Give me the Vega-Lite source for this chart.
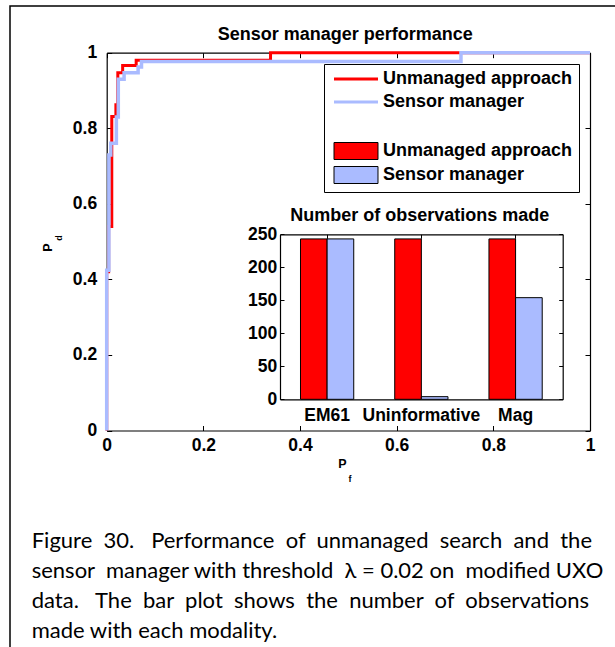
{
  "$schema": "https://vega.github.io/schema/vega-lite/v6.json",
  "autosize": {"type": "none"},
  "width": 610,
  "height": 646,
  "padding": {"left": 10, "top": 6, "right": -5, "bottom": -5},
  "background": "white",
  "title": {
    "text": [
      "Figure\u00a0 30.\u00a0\u00a0 Performance\u00a0 of\u00a0 unmanaged\u00a0 search\u00a0 and\u00a0 the",
      "sensor\u00a0 manager with threshold\u00a0 λ = 0.02 on\u00a0 modified UXO",
      "data.\u00a0\u00a0 The\u00a0 bar\u00a0 plot\u00a0 shows\u00a0 the\u00a0 number\u00a0 of\u00a0 observations",
      "made with each modality."
    ],
    "orient": "bottom",
    "anchor": "start",
    "frame": "group",
    "offset": -121,
    "dx": 21.7,
    "font": "Lato",
    "fontSize": 22,
    "fontWeight": "normal",
    "color": "black",
    "lineHeight": 30,
    "baseline": "top",
    "align": "left"
  },
  "datasets": {
    "roc": [
      {"curve": "Unmanaged approach", "step": 0, "pf": 0, "pd": 0},
      {"curve": "Unmanaged approach", "step": 1, "pf": 0, "pd": 0.42},
      {"curve": "Unmanaged approach", "step": 2, "pf": 0.004, "pd": 0.54},
      {"curve": "Unmanaged approach", "step": 3, "pf": 0.0105, "pd": 0.831},
      {"curve": "Unmanaged approach", "step": 4, "pf": 0.019, "pd": 0.862},
      {"curve": "Unmanaged approach", "step": 5, "pf": 0.023, "pd": 0.947},
      {"curve": "Unmanaged approach", "step": 6, "pf": 0.033, "pd": 0.966},
      {"curve": "Unmanaged approach", "step": 7, "pf": 0.061, "pd": 0.98},
      {"curve": "Unmanaged approach", "step": 8, "pf": 0.339, "pd": 1},
      {"curve": "Unmanaged approach", "step": 9, "pf": 1, "pd": 1},
      {"curve": "Sensor manager", "step": 0, "pf": 0, "pd": 0},
      {"curve": "Sensor manager", "step": 1, "pf": 0, "pd": 0.424},
      {"curve": "Sensor manager", "step": 2, "pf": 0.0045, "pd": 0.729},
      {"curve": "Sensor manager", "step": 3, "pf": 0.0085, "pd": 0.76},
      {"curve": "Sensor manager", "step": 4, "pf": 0.02, "pd": 0.83},
      {"curve": "Sensor manager", "step": 5, "pf": 0.024, "pd": 0.93},
      {"curve": "Sensor manager", "step": 6, "pf": 0.036, "pd": 0.947},
      {"curve": "Sensor manager", "step": 7, "pf": 0.065, "pd": 0.962},
      {"curve": "Sensor manager", "step": 8, "pf": 0.072, "pd": 0.977},
      {"curve": "Sensor manager", "step": 9, "pf": 0.733, "pd": 1},
      {"curve": "Sensor manager", "step": 10, "pf": 1, "pd": 1}
    ],
    "obs": [
      {"modality": "EM61", "series": "Unmanaged approach", "count": 243},
      {"modality": "Uninformative", "series": "Unmanaged approach", "count": 243},
      {"modality": "Mag", "series": "Unmanaged approach", "count": 243},
      {"modality": "EM61", "series": "Sensor manager", "count": 243},
      {"modality": "Uninformative", "series": "Sensor manager", "count": 4},
      {"modality": "Mag", "series": "Sensor manager", "count": 154}
    ]
  },
  "layer": [
    {
      "data": {"name": "roc"},
      "layer": [
        {
          "transform": [{"filter": "datum.curve === 'Unmanaged approach'"}],
          "mark": {"type": "line", "interpolate": "step-after", "strokeWidth": 3},
          "encoding": {
            "x": {
              "field": "pf", "type": "quantitative",
              "scale": {"domain": [0, 1], "range": [96.7, 580], "nice": false, "zero": false},
              "axis": {
                "orient": "bottom", "offset": -221.5,
                "values": [0, 0.2, 0.4, 0.6, 0.8, 1], "format": "~g",
                "tickSize": -5, "labelPadding": 10.5, "labelFlush": false, "labelOverlap": false,
                "title": "P", "titleFontSize": 12.5, "titleX": 331.8, "titleY": 32.8,
                "titleBaseline": "middle", "titleAlign": "center", "titleAngle": 0
              }
            },
            "y": {
              "field": "pd", "type": "quantitative",
              "scale": {"domain": [0, 1], "range": [424.5, 46.7], "nice": false, "zero": false},
              "axis": {
                "orient": "left", "offset": -96.7,
                "values": [0, 0.2, 0.4, 0.6, 0.8, 1], "format": "~g",
                "tickSize": -5, "labelPadding": 15, "labelFlush": false, "labelOverlap": false,
                "title": "P", "titleFontSize": 12.5, "titleX": -59.2, "titleY": 241,
                "titleAngle": 270, "titleBaseline": "middle", "titleAlign": "center"
              }
            },
            "color": {
              "field": "curve", "type": "nominal",
              "scale": {"domain": ["Unmanaged approach", "Sensor manager"], "range": ["#ff0000", "#aabbff"]},
              "legend": {
                "title": null, "orient": "none", "legendX": 314, "legendY": 57,
                "padding": 6,
                "symbolType": "M-2.588,0H2.588", "symbolSize": 289, "symbolStrokeWidth": 3, "symbolOffset": 16,
                "labelOffset": 17, "labelFont": "Liberation Sans", "labelFontSize": 18,
                "labelFontWeight": "bold", "labelColor": "black", "labelLimit": 300,
                "rowPadding": 4
              }
            },
            "order": {"field": "step", "type": "quantitative"}
          }
        },
        {
          "transform": [{"filter": "datum.curve === 'Sensor manager'"}],
          "mark": {"type": "line", "interpolate": "step-after", "strokeWidth": 3.5},
          "encoding": {
            "x": {
              "field": "pf", "type": "quantitative",
              "axis": {
                "orient": "top", "offset": -46.7,
                "values": [0, 0.2, 0.4, 0.6, 0.8, 1],
                "tickSize": -5, "labels": false,
                "title": "Sensor manager performance", "titleFontSize": 18,
                "titleX": 334.7, "titleY": -13.4, "titleBaseline": "alphabetic", "titleAlign": "center"
              }
            },
            "y": {
              "field": "pd", "type": "quantitative",
              "axis": {
                "orient": "right", "offset": -30,
                "values": [0, 0.2, 0.4, 0.6, 0.8, 1],
                "tickSize": -5, "labels": false,
                "title": "d", "titleFontSize": 9, "titleX": -531.7, "titleY": 231.5,
                "titleAngle": 270, "titleBaseline": "middle", "titleAlign": "center"
              }
            },
            "color": {"field": "curve", "type": "nominal"},
            "order": {"field": "step", "type": "quantitative"}
          }
        }
      ],
      "resolve": {"axis": {"x": "independent", "y": "independent"}}
    },
    {
      "data": {"name": "obs"},
      "layer": [
        {
          "transform": [{"filter": "datum.series === 'Unmanaged approach'"}],
          "mark": {"type": "bar", "stroke": "black", "strokeWidth": 1},
          "encoding": {
            "x": {
              "field": "modality", "type": "nominal", "sort": null,
              "scale": {"domain": ["EM61", "Uninformative", "Mag"], "range": [270, 552.7], "paddingInner": 0.435, "paddingOuter": 0.2175},
              "axis": {
                "orient": "bottom", "offset": -252.7,
                "tickSize": -4, "labelPadding": 11.5, "labelAngle": 0, "labelOverlap": false,
                "title": "f", "titleFontSize": 9, "titleX": 339.5, "titleY": 79,
                "titleBaseline": "middle", "titleAlign": "center", "titleAngle": 0
              }
            },
            "xOffset": {
              "field": "series", "type": "nominal",
              "scale": {"domain": ["Unmanaged approach", "Sensor manager"], "paddingInner": 0, "paddingOuter": 0}
            },
            "y": {
              "field": "count", "type": "quantitative", "stack": null,
              "scale": {"domain": [0, 250], "range": [393.3, 228.3], "nice": false},
              "axis": {
                "orient": "left", "offset": -270,
                "values": [0, 50, 100, 150, 200, 250],
                "tickSize": -4, "labelPadding": 7.3, "labelOverlap": false, "labelFlush": false,
                "title": null
              }
            },
            "fill": {
              "field": "series", "type": "nominal",
              "scale": {"domain": ["Sensor manager", "Unmanaged approach"], "range": ["#aabbff", "#ff0000"]},
              "legend": {
                "values": ["Unmanaged approach", "Sensor manager"],
                "title": " ", "titleFontSize": 10, "titleLineHeight": 10, "titlePadding": 62,
                "orient": "none", "legendX": 314, "legendY": 58,
                "strokeColor": "black", "padding": 6, "cornerRadius": 0,
                "symbolType": "M-2.588,-1H2.588V1H-2.588Z", "symbolSize": 289, "symbolStrokeWidth": 1,
                "symbolStrokeColor": "black", "symbolOffset": 17,
                "labelOffset": 18, "labelFont": "Liberation Sans", "labelFontSize": 18,
                "labelFontWeight": "bold", "labelColor": "black", "labelLimit": 300,
                "rowPadding": 2
              }
            }
          }
        },
        {
          "transform": [{"filter": "datum.series === 'Sensor manager'"}],
          "mark": {"type": "bar", "stroke": "black", "strokeWidth": 1},
          "encoding": {
            "x": {
              "field": "modality", "type": "nominal", "sort": null,
              "axis": {
                "orient": "top", "offset": -228.3,
                "tickSize": -4, "labels": false,
                "title": "Number of observations made", "titleFontSize": 18,
                "titleX": 409.2, "titleY": -13.6, "titleBaseline": "alphabetic", "titleAlign": "center"
              }
            },
            "xOffset": {"field": "series", "type": "nominal"},
            "y": {
              "field": "count", "type": "quantitative", "stack": null,
              "axis": {
                "orient": "right", "offset": -57.3,
                "values": [0, 50, 100, 150, 200, 250],
                "tickSize": -4, "labels": false, "title": null
              }
            },
            "fill": {"field": "series", "type": "nominal"}
          }
        }
      ],
      "resolve": {"axis": {"x": "independent", "y": "independent"}}
    }
  ],
  "resolve": {"scale": {"x": "independent", "y": "independent"}},
  "config": {
    "view": {"stroke": "black", "strokeWidth": 1.5},
    "font": "Liberation Sans",
    "axis": {
      "grid": false,
      "domainColor": "black", "domainWidth": 1.2,
      "tickColor": "black", "tickWidth": 1,
      "labelColor": "black", "titleColor": "black",
      "labelFont": "Liberation Sans", "titleFont": "Liberation Sans",
      "labelFontWeight": "bold", "titleFontWeight": "bold",
      "labelFontSize": 17.5
    }
  }
}
